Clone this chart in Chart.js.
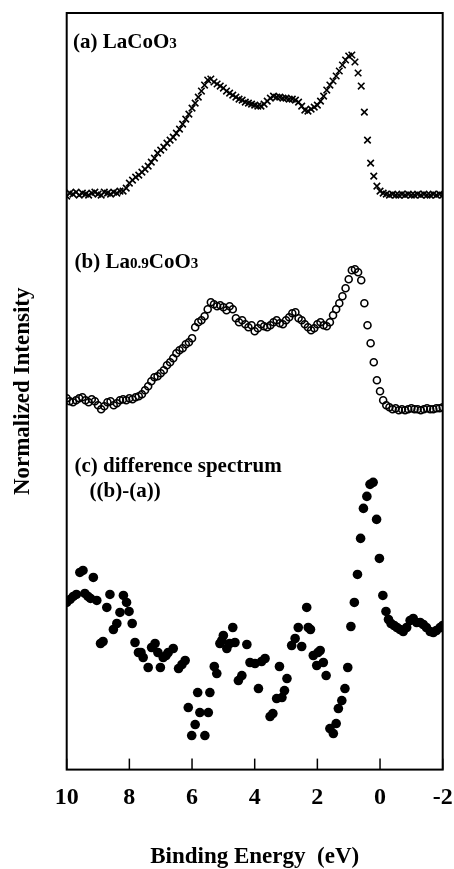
<!DOCTYPE html>
<html>
<head>
<meta charset="utf-8">
<script src="https://cdn.jsdelivr.net/npm/chart.js@4.4.1/dist/chart.umd.min.js"></script>
<style>
html,body{margin:0;padding:0;background:#fff;}
#wrap{width:454px;height:869px;}
</style>
</head>
<body>
<div id="wrap"><canvas id="c" width="454" height="869"></canvas></div>
<script>
// Binding energy grid (eV) for spectra (a) and (b)
const energyAB = [10,9.9,9.8,9.7,9.6,9.5,9.4,9.3,9.2,9.1,
9,8.9,8.8,8.7,8.6,8.5,8.4,8.3,8.2,8.1,
8,7.9,7.8,7.7,7.6,7.5,7.4,7.3,7.2,7.1,
7,6.9,6.8,6.7,6.6,6.5,6.4,6.3,6.2,6.1,
6,5.9,5.8,5.7,5.6,5.5,5.4,5.3,5.2,5.1,
5,4.9,4.8,4.7,4.6,4.5,4.4,4.3,4.2,4.1,
4,3.9,3.8,3.7,3.6,3.5,3.4,3.3,3.2,3.1,
3,2.9,2.8,2.7,2.6,2.5,2.4,2.3,2.2,2.1,
2,1.9,1.8,1.7,1.6,1.5,1.4,1.3,1.2,1.1,
1,0.9,0.8,0.7,0.6,0.5,0.4,0.3,0.2,0.1,
0,-0.1,-0.2,-0.3,-0.4,-0.5,-0.6,-0.7,-0.8,-0.9,
-1,-1.1,-1.2,-1.3,-1.4,-1.5,-1.6,-1.7,-1.8,-1.9,
-2];

// (a) LaCoO3 (offset intensity, arb. units)
const seriesA = [573,576,575,577,574,576,575,574,576,577,
575,574,577,576,575,577,576,578,578,581,
586,589,592,594,597,600,603,607,611,616,
619,622,626,629,632,636,640,645,650,655,
661,666,672,678,684,689,690,687,685,683,
681,678,676,674,672,670,669,667,666,665,
664,663,663,665,668,671,673,672,672,671,
671,670,670,669,667,663,659,658,660,662,
664,668,673,679,684,688,693,698,704,709,
713,714,707,696,683,657,629,606,593,583,
578,576,575,574,575,574,574,575,574,575,
574,574,575,574,575,574,574,575,574,575,
574];

// (b) La0.9CoO3
const seriesB = [371,368,367,369,371,372,369,367,370,368,
364,360,363,367,368,364,366,369,370,369,
371,370,372,373,375,379,383,388,392,393,
396,399,404,407,411,416,419,421,425,427,
431,442,447,449,453,460,467,465,463,464,
462,459,463,460,451,447,449,445,442,444,
438,441,445,443,442,444,447,449,446,445,
449,452,456,457,451,449,445,442,439,441,
445,447,444,443,447,454,460,466,473,481,
490,499,500,497,489,466,444,426,407,389,
378,369,364,362,360,361,359,360,359,360,
361,360,360,359,360,361,360,360,361,361,
362];

// (c) difference spectrum ((b)-(a))
const energyC = [10.00,9.89,9.79,9.69,9.58,9.48,9.42,9.32,9.24,9.15,
9.04,8.92,8.84,8.72,8.62,8.51,8.40,8.30,8.19,8.09,
8.01,7.91,7.82,7.71,7.63,7.56,7.40,7.29,7.18,7.09,
7.01,6.92,6.83,6.76,6.60,6.43,6.32,6.22,6.12,6.01,
5.90,5.82,5.75,5.59,5.48,5.43,5.29,5.21,5.11,5.05,
5.00,4.89,4.80,4.70,4.63,4.52,4.41,4.25,4.15,3.99,
3.88,3.78,3.67,3.51,3.42,3.30,3.21,3.13,3.05,2.97,
2.82,2.71,2.61,2.50,2.34,2.29,2.22,2.13,2.02,1.98,
1.91,1.81,1.72,1.60,1.49,1.40,1.33,1.22,1.12,1.03,
0.93,0.82,0.72,0.62,0.53,0.42,0.32,0.22,0.11,0.02,
-0.09,-0.19,-0.27,-0.35,-0.45,-0.54,-0.64,-0.74,-0.85,-0.96,
-1.06,-1.17,-1.28,-1.38,-1.48,-1.60,-1.70,-1.80,-1.92,-2.00];
const seriesC = [167,170,173,175,197,199,176,173,171,192,
169,126,128,162,175,140,146,157,174,167,
158,146,127,117,117,112,102,122,126,117,
102,112,114,117,121,101,105,109,62,34,
45,77,57,34,57,77,103,96,126,129,
134,121,126,142,127,89,94,125,107,106,
81,108,111,53,56,71,103,72,79,91,
124,131,142,123,162,142,140,114,104,117,
119,107,94,41,36,46,61,69,81,102,
143,167,195,231,261,273,285,287,250,211,
174,158,150,146,144,142,140,138,142,149,
151,147,147,145,142,138,137,139,142,144];

const xTicks = [10,8,6,4,2,0,-2];
const xTitle = 'Binding Energy  (eV)';
const yTitle = 'Normalized Intensity';
const panelLabels = [
  {e: 9.8, v: 721, parts: [['(a) LaCoO', 1], ['3', 0.72]]},
  {e: 9.75, v: 501, parts: [['(b) La', 1], ['0.9', 0.72], ['CoO', 1], ['3', 0.72]]},
  {e: 9.75, v: 297, parts: [['(c) difference spectrum', 1]]},
  {e: 9.27, v: 272, parts: [['((b)-(a))', 1]]}
];

const SERIF = '"Liberation Serif", "Times New Roman", serif';

const pairs = (xs, ys) => xs.map((x, i) => ({x: x, y: ys[i]}));

const framePlugin = {
  id: 'frame',
  afterDatasetsDraw(chart) {
    const ctx = chart.ctx;
    const xs = chart.scales.x, ys = chart.scales.y;
    ctx.save();
    ctx.fillStyle = '#000';
    ctx.textBaseline = 'alphabetic';
    ctx.textAlign = 'left';
    const base = 21;
    panelLabels.forEach(l => {
      let px = xs.getPixelForValue(l.e);
      const py = ys.getPixelForValue(l.v);
      l.parts.forEach(p => {
        ctx.font = 'bold ' + (base * p[1]) + 'px ' + SERIF;
        ctx.fillText(p[0], px, py);
        px += ctx.measureText(p[0]).width;
      });
    });
    ctx.restore();
  },
  afterDraw(chart) {
    const ctx = chart.ctx;
    const a = chart.chartArea;
    const xs = chart.scales.x;
    ctx.save();
    ctx.strokeStyle = '#000';
    ctx.lineWidth = 2;
    ctx.strokeRect(a.left, a.top, a.right - a.left, a.bottom - a.top);
    ctx.lineWidth = 1.5;
    xs.ticks.forEach((t, i) => {
      const px = xs.getPixelForTick(i);
      ctx.beginPath();
      ctx.moveTo(px, a.bottom);
      ctx.lineTo(px, a.bottom - 11);
      ctx.stroke();
    });
    ctx.restore();
  }
};

new Chart(document.getElementById('c'), {
  type: 'scatter',
  data: {
    datasets: [
      {
        label: '(a) LaCoO3',
        data: pairs(energyAB, seriesA),
        pointStyle: 'crossRot',
        pointRadius: 4.6,
        borderWidth: 1.6,
        borderColor: '#000',
        backgroundColor: '#000'
      },
      {
        label: '(b) La0.9CoO3',
        data: pairs(energyAB, seriesB),
        pointStyle: 'circle',
        pointRadius: 3.5,
        borderWidth: 1.6,
        borderColor: '#000',
        backgroundColor: 'rgba(0,0,0,0)'
      },
      {
        label: '(c) difference spectrum',
        data: pairs(energyC, seriesC),
        pointStyle: 'circle',
        pointRadius: 4.8,
        borderWidth: 0,
        borderColor: '#000',
        backgroundColor: '#000'
      }
    ]
  },
  options: {
    responsive: false,
    animation: false,
    devicePixelRatio: 1,
    layout: {padding: {left: 0, right: 11.3, top: 13, bottom: 0}},
    plugins: {legend: {display: false}, tooltip: {enabled: false}},
    scales: {
      x: {
        type: 'linear', min: -2, max: 10, reverse: true,
        afterBuildTicks: s => { s.ticks = xTicks.map(v => ({value: v})); },
        afterFit: s => { s.paddingLeft = 0; s.paddingRight = 0; },
        ticks: {
          font: {family: SERIF, size: 24, weight: 'bold'},
          color: '#000', padding: 14, maxRotation: 0, autoSkip: false,
          callback: v => String(v)
        },
        grid: {display: false, drawTicks: false},
        border: {display: false},
        title: {
          display: true, text: xTitle, color: '#000',
          font: {family: SERIF, size: 23, weight: 'bold', lineHeight: 1.0},
          padding: {top: 19.6, bottom: 0}
        }
      },
      y: {
        min: 0, max: 756,
        afterFit: s => { s.paddingTop = 0; s.paddingBottom = 0; },
        ticks: {display: false},
        grid: {display: false, drawTicks: false},
        border: {display: false},
        title: {
          display: true, text: yTitle, color: '#000',
          font: {family: SERIF, size: 23, weight: 'bold'},
          padding: {top: 8.8, bottom: 30.3}
        }
      }
    }
  },
  plugins: [framePlugin]
});
</script>
</body>
</html>
